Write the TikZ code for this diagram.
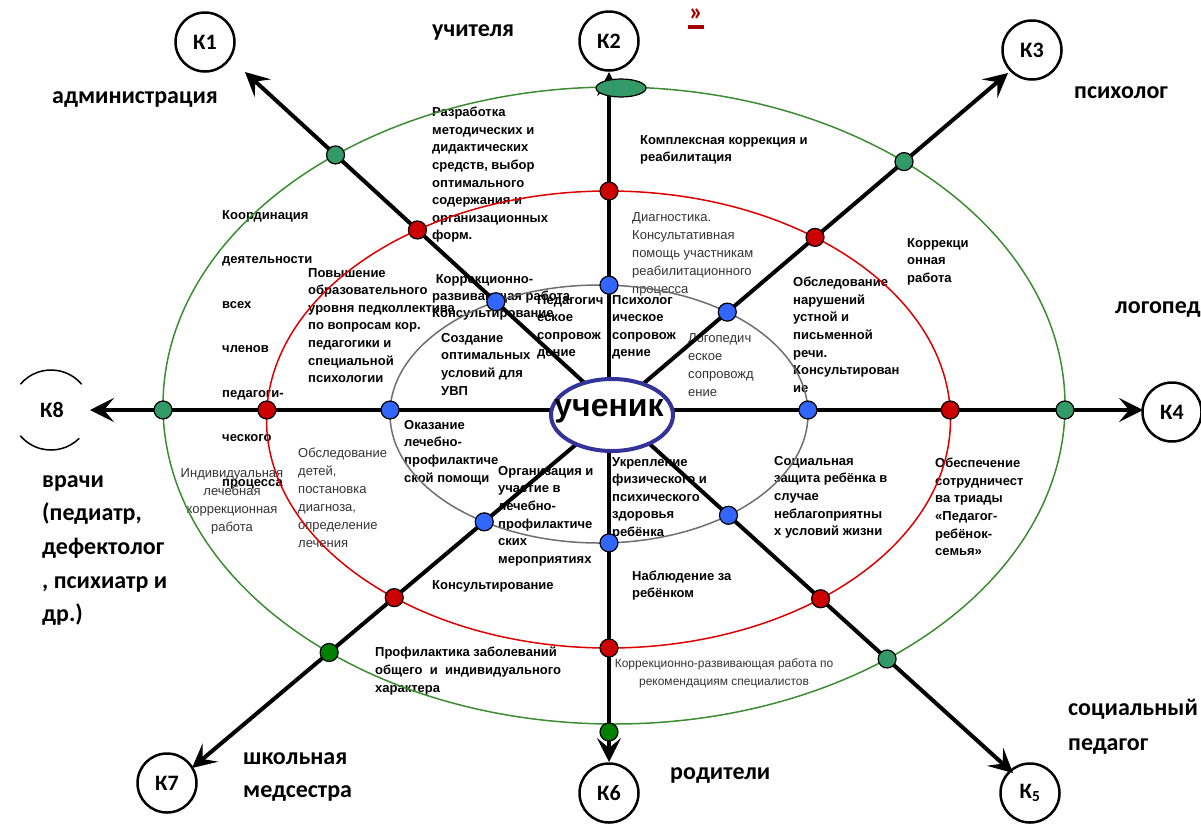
\documentclass[tikz,border=0pt]{standalone}
\usepackage{fontspec}
\setmainfont{Liberation Sans}
\newfontfamily\calfont{Carlito}
\usetikzlibrary{arrows.meta,intersections,shapes.geometric,calc}
\definecolor{ringG}{RGB}{60,140,50}
\definecolor{ringR}{RGB}{222,0,0}
\definecolor{ringB}{RGB}{110,110,110}
\definecolor{dotG}{RGB}{51,153,102}
\definecolor{dotDG}{RGB}{0,128,0}
\definecolor{dotR}{RGB}{204,0,0}
\definecolor{dotB}{RGB}{51,102,255}
\definecolor{ucblue}{RGB}{51,51,153}
\definecolor{linkred}{RGB}{165,0,0}
\begin{document}
\begin{tikzpicture}[x=1pt,y=-1pt,
  txt/.style={font=\fontsize{13}{17.6}\selectfont\bfseries, align=left, inner sep=0pt, anchor=north west},
  txtr/.style={font=\fontsize{13}{18}\selectfont, text=black!80, align=left, inner sep=0pt, anchor=north west},
  role/.style={font=\calfont\bfseries\fontsize{24}{33.7}\selectfont, align=left, inner sep=0pt, anchor=west},
  kc/.style={circle, draw, line width=2.5pt, minimum size=59pt, inner sep=0pt, font=\calfont\bfseries\fontsize{22}{22}\selectfont},
  dot/.style={circle, draw, line width=1.2pt, minimum size=18pt, inner sep=0pt},
  ray/.style={line width=4pt, -{Stealth[length=24pt,width=24pt,inset=10pt]}},
  ring/.style={line width=1.5pt}]
\useasboundingbox (0,0) rectangle (1201,825);

% ---------- texts ----------
\node[role] (lteach) at (432,32) {учителя};
\node[inner sep=0pt, text=linkred, align=center, font=\calfont\bfseries\fontsize{26}{26}\selectfont] (link) at (696,19) {»\\[-18pt]\rule{16pt}{4pt}};
\node[role] (ladm) at (52,100) {администрация};
\node[role] (lpsy) at (1074,93) {психолог};
\node[role] (llog) at (1115,310) {логопед};
\node[role, anchor=north west] (ldoc) at (42,475) {врачи\\(педиатр,\\дефектолог\\, психиатр и\\др.)};
\node[role, anchor=north west, font=\calfont\bfseries\fontsize{24}{33}\selectfont] (lnurse) at (243,752) {школьная\\медсестра};
\node[role] (lpar) at (670,775) {родители};
\node[role, anchor=north west, font=\calfont\bfseries\fontsize{24}{35}\selectfont] (lsoc) at (1068,699) {социальный\\педагог};

\node[txt] (a1) at (432,107) {Разработка\\методических и\\дидактических\\средств, выбор\\оптимального\\содержания и\\организационных\\форм.};
\node[txt] (a2) at (640,135) {Комплексная коррекция и\\реабилитация};
\node[txtr] (a3) at (632,212) {Диагностика.\\Консультативная\\помощь участникам\\реабилитационного\\процесса};
\node[txt] (a4) at (907,238) {Коррекци\\онная\\работа};
\node[txt] (a5) at (793,277) {Обследование\\нарушений\\устной и\\письменной\\речи.\\Консультирован\\ие};
\node[txt, font=\fontsize{13}{44.5}\selectfont\bfseries] (a6) at (222,210) {Координация\\деятельности\\всех\\членов\\педагоги-\\ческого\\процесса};
\node[txt] (a7) at (308,268) {Повышение\\образовательного\\уровня педколлектива\\по вопросам кор.\\педагогики и\\специальной\\психологии};
\node[txt, font=\fontsize{13}{17}\selectfont\bfseries] (a8) at (432,274) {\ Коррекционно-\\развивающая работа\\Консультирование};
\node[txt] (a9) at (537,295) {Педагогич\\еское\\сопровож\\дение};
\node[txt] (a10) at (612,295) {Психолог\\ическое\\сопровож\\дение};
\node[txtr] (a11) at (688,333) {Логопедич\\еское\\сопровожд\\ение};
\node[txt] (a12) at (441,333) {Создание\\оптимальных\\условий для\\УВП};
\node[txt] (a13) at (404,420) {Оказание\\лечебно-\\профилактиче\\ской помощи};
\node[txt] (a14) at (498,466) {Организация и\\участие в\\лечебно-\\профилактиче\\ских\\мероприятиях};
\node[txt] (a15) at (612,457) {Укрепление\\физического и\\психического\\здоровья\\ребёнка};
\node[txt] (a16) at (774,456) {Социальная\\защита ребёнка в\\случае\\неблагоприятны\\х условий жизни};
\node[txt] (a17) at (935,458) {Обеспечение\\сотрудничест\\ва триады\\«Педагог-\\ребёнок-\\семья»};
\node[txtr, anchor=north, align=center] (a18) at (232,468) {Индивидуальная\\лечебная\\коррекционная\\работа};
\node[txtr] (a19) at (298,448) {Обследование\\детей,\\постановка\\диагноза,\\определение\\лечения};
\node[txt] (a20) at (432,580) {Консультирование};
\node[txt, font=\fontsize{13}{17}\selectfont\bfseries] (a21) at (632,571) {Наблюдение за\\ребёнком};
\node[txt] (a22) at (375,647) {Профилактика заболеваний\\общего\ \ и\ \ индивидуального\\характера};
\node[txtr, anchor=north, align=center, font=\fontsize{12}{18.5}\selectfont] (a23) at (724,658) {Коррекционно-развивающая работа по\\рекомендациям специалистов};

% ---------- rings ----------
\draw[ring, ringB, name path=ringB] (599,414) ellipse [x radius=209, y radius=129];
\draw[ring, ringR, name path=ringR] (608.5,419.5) ellipse [x radius=342, y radius=228.5];
\draw[ring, ringG, name path=ringG] (614,405.5) ellipse [x radius=451, y radius=318.5];

% ---------- rays ----------
\coordinate (s1) at (578,377); \coordinate (t1) at (245,72);
\coordinate (s2) at (609,372); \coordinate (t2) at (609,72);
\coordinate (s3) at (650,378); \coordinate (t3) at (1008,73);
\coordinate (s4) at (669,410); \coordinate (t4) at (1143,410);
\coordinate (s5) at (653,447); \coordinate (t5) at (1013,773);
\coordinate (s6) at (609,448); \coordinate (t6) at (609,762);
\coordinate (s7) at (573,447); \coordinate (t7) at (192,768);
\coordinate (s8) at (549,410); \coordinate (t8) at (90,410);
\foreach \i in {1,...,8}{
  \draw[ray, name path global=r\i] ($(s\i)!-10pt!(t\i)$) -- (t\i);
}

% ---------- centre ----------
\node[ellipse, draw=ucblue, line width=4pt, fill=white, minimum width=122pt, minimum height=72pt, inner sep=0pt] (ucell) at (612,415) {};
\node[inner sep=0pt, font=\bfseries\fontsize{32}{32}\selectfont] (uc) at (609,411) {ученик};

% ---------- intersection dots ----------
\foreach \i in {1,...,8}{
  \path[name intersections={of=ringB and r\i, by=b\i}];
  \path[name intersections={of=ringR and r\i, by=rr\i}];
  \path[name intersections={of=ringG and r\i, by=g\i}];
  \node[dot, fill=dotB] (nb\i) at (b\i) {};
  \node[dot, fill=dotR] (nr\i) at (rr\i) {};
}
\foreach \i in {1,3,4,5,8}{
  \node[dot, fill=dotG] (ng\i) at (g\i) {};
}
\node[dot, fill=dotDG] (ng7) at (g7) {};
\node[dot, fill=dotDG] (ng6) at (609,732) {};
\node[ellipse, draw, line width=1.2pt, fill=dotG, minimum width=50pt, minimum height=18pt, inner sep=0pt] (ng2) at (621,88) {};

% ---------- K circles ----------
\node[kc] (K1) at (205,42) {К1};
\node[kc] (K2) at (609,41) {К2};
\node[kc] (K3) at (1032,50) {К3};
\node[kc] (K4) at (1172,412) {К4};
\node[kc] (K5) at (1030,793) {К\textsubscript{5}};
\node[kc] (K6) at (609,793) {К6};
\node[kc] (K7) at (167,783) {К7};
\node[inner sep=0pt, font=\calfont\bfseries\fontsize{22}{22}\selectfont] (K8) at (52,410) {К8};
\draw[line width=1.5pt] (51,410) ++(45:40) arc[start angle=45, end angle=140, radius=40];
\draw[line width=1.5pt] (51,410) ++(220:40) arc[start angle=220, end angle=320, radius=40];
\end{tikzpicture}
\end{document}
